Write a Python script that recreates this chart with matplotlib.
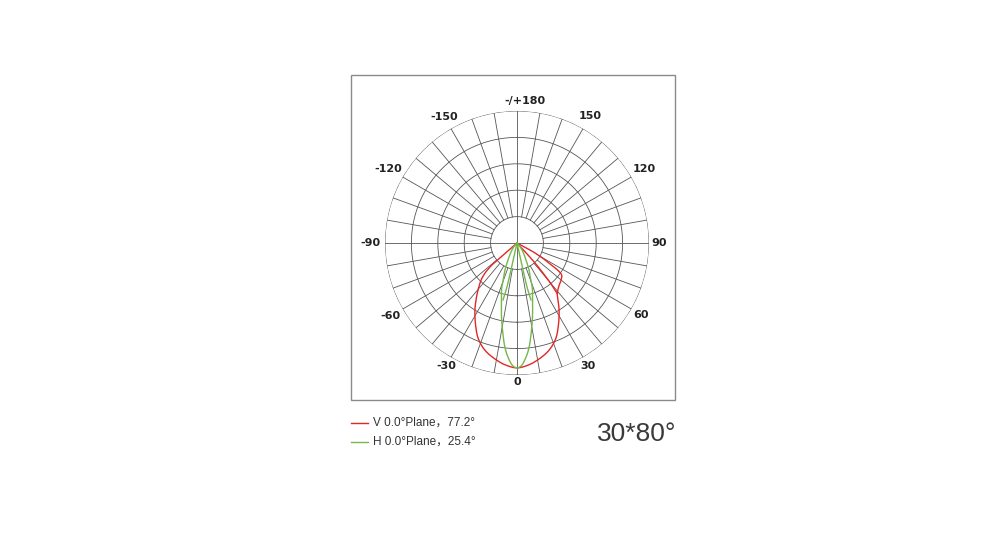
import numpy as np
import matplotlib
matplotlib.use("Agg")
import matplotlib.pyplot as plt
from matplotlib.patches import Rectangle

# ---- data (angles in degrees, 0 = down, positive to the right; r in ring units, outer ring = 5)
red_angles = [-50, -49, -48.4, -45, -39.7, -35.7, -32.1, -26.8, -21.9, -16.2, -9.1, -4.6, 0,
              4.6, 9.1, 16.2, 21.9, 26.8, 32.1, 35.7, 38.5, 44, 50, 54.4, 58, 61, 64]
red_r = [0, 0.50, 1.37, 1.87, 2.31, 2.66, 3.00, 3.48, 3.92, 4.26, 4.53, 4.66, 4.73,
         4.66, 4.53, 4.26, 3.92, 3.48, 3.00, 2.66, 2.45, 2.28, 2.18, 2.08, 1.40, 0.78, 0]
red_inner_angles = [38.5, 40, 42, 44]
red_inner_r = [2.45, 1.90, 1.02, 0]

green_angles = [-50, -40.6, -33.7, -27.9, -24, -20.3, -18.8, -14.5, -12.2, -9.8, -6.5, -4.3, -1.9, 0,
                1.9, 4.3, 6.5, 9.8, 12.2, 14.5, 18.8, 20.3, 24, 27.9, 33.7, 40.6, 50]
green_r = [0, 0.17, 0.41, 0.73, 1.12, 1.50, 1.80, 2.35, 2.79, 3.27, 4.00, 4.37, 4.66, 4.73,
           4.66, 4.37, 4.00, 3.27, 2.79, 2.35, 1.80, 1.50, 1.12, 0.73, 0.41, 0.17, 0]
green_inner_left_angles = [-12.5, -12.9, -13.8]
green_inner_right_angles = [12.5, 12.9, 13.8]
green_inner_r = [0, 1.74, 2.22]

tick_angles = [0, 30, 60, 90, 120, 150, 180, -150, -120, -90, -60, -30]
tick_labels = ["0", "30", "60", "90", "120", "150", "-/+180", "-150", "-120", "-90", "-60", "-30"]
ring_values = [1, 2, 3, 4, 5]

legend_labels = ["V 0.0°Plane，77.2°", "H 0.0°Plane，25.4°"]
title_text = "30*80°"

red_c = "#e32626"
green_c = "#74b84a"
grid_c = "#555555"

# label distance from centre and horizontal nudge in points (style)
label_radius = {0: 5.27, 30: 5.38, 60: 5.42, 90: 5.38, 120: 5.57, 150: 5.55, 180: 5.36,
                -150: 5.53, -120: 5.64, -90: 5.57, -60: 5.54, -30: 5.39}
label_nudge = {180: 5.5}

W, H = 1005, 550
fig = plt.figure(figsize=(W / 100, H / 100), dpi=100)
fig.patch.set_facecolor("white")

# outer frame box
fig.add_artist(Rectangle((351 / W, 1 - 400 / H), 324 / W, 325 / H, transform=fig.transFigure,
                         fill=False, edgecolor="#8a8a8a", linewidth=1.0))

cx, cy, R = 517, 243, 132
ax = fig.add_axes([(cx - R) / W, 1 - (cy + R) / H, 2 * R / W, 2 * R / H], projection="polar")
ax.set_theta_zero_location("S")
ax.set_theta_direction(1)
ax.set_ylim(0, 5)
ax.grid(False)
ax.set_xticks([])
ax.set_yticks([])
ax.spines["polar"].set_visible(False)
ax.patch.set_alpha(0)

# grid
tt = np.linspace(0, 2 * np.pi, 400)
for rv in ring_values:
    ax.plot(tt, np.full_like(tt, rv), color=grid_c, lw=0.6, zorder=1)
for a in range(0, 360, 10):
    r0 = 0 if a % 90 == 0 else 1
    ax.plot([np.radians(a)] * 2, [r0, 5], color=grid_c, lw=0.6, zorder=1)


def smooth_path(angles, radii, n=20):
    """Centripetal Catmull-Rom through the given points (drawing only)."""
    th = np.radians(angles)
    r = np.asarray(radii, float)
    P = np.column_stack([r * np.sin(th), -r * np.cos(th)])
    P = np.vstack([2 * P[0] - P[1], P, 2 * P[-1] - P[-2]])
    out = []
    for i in range(1, len(P) - 2):
        p0, p1, p2, p3 = P[i - 1], P[i], P[i + 1], P[i + 2]
        def tj(ti, a, b):
            return ti + max(np.hypot(*(b - a)), 1e-6) ** 0.5
        t0 = 0.0
        t1 = tj(t0, p0, p1)
        t2 = tj(t1, p1, p2)
        t3 = tj(t2, p2, p3)
        ts = np.linspace(t1, t2, n, endpoint=False)[:, None]
        A1 = (t1 - ts) / (t1 - t0) * p0 + (ts - t0) / (t1 - t0) * p1
        A2 = (t2 - ts) / (t2 - t1) * p1 + (ts - t1) / (t2 - t1) * p2
        A3 = (t3 - ts) / (t3 - t2) * p2 + (ts - t2) / (t3 - t2) * p3
        B1 = (t2 - ts) / (t2 - t0) * A1 + (ts - t0) / (t2 - t0) * A2
        B2 = (t3 - ts) / (t3 - t1) * A2 + (ts - t1) / (t3 - t1) * A3
        C = (t2 - ts) / (t2 - t1) * B1 + (ts - t1) / (t2 - t1) * B2
        out.append(C)
    out.append(P[-2][None, :])
    Q = np.vstack(out)
    return np.arctan2(Q[:, 0], -Q[:, 1]), np.hypot(Q[:, 0], Q[:, 1])


def curve(angles, radii, color, z):
    t, r = smooth_path(angles, radii)
    ax.plot(t, r, color=color, lw=1.0, zorder=z)


curve(red_angles, red_r, red_c, 3)
curve(red_inner_angles, red_inner_r, red_c, 3)
curve(green_angles, green_r, green_c, 4)
curve(green_inner_left_angles, green_inner_r, green_c, 4)
curve(green_inner_right_angles, green_inner_r, green_c, 4)

# angle labels
for a, lab in zip(tick_angles, tick_labels):
    ax.annotate(lab, xy=(np.radians(a), label_radius[a]), xytext=(label_nudge.get(a, 0), 0),
                textcoords="offset points", ha="center", va="center", fontsize=8,
                fontweight="bold", color="#222222", annotation_clip=False)

# legend
fam = ["Liberation Sans", "Noto Sans CJK SC", "DejaVu Sans"]
for i, (lab, c) in enumerate(zip(legend_labels, [red_c, green_c])):
    y = 1 - (423 + 19 * i) / H
    fig.add_artist(plt.Line2D([351 / W, 368 / W], [y, y], color=c, lw=1.0, transform=fig.transFigure))
    fig.text(373 / W, y, lab, ha="left", va="center", fontsize=8.5, color="#333333", family=fam)

fig.text(676 / W, 1 - 434 / H, title_text, ha="right", va="center", fontsize=19,
         color="#3a3a3a", family=["Liberation Sans", "DejaVu Sans"])

fig.savefig("out.png", dpi=100, facecolor="white")
